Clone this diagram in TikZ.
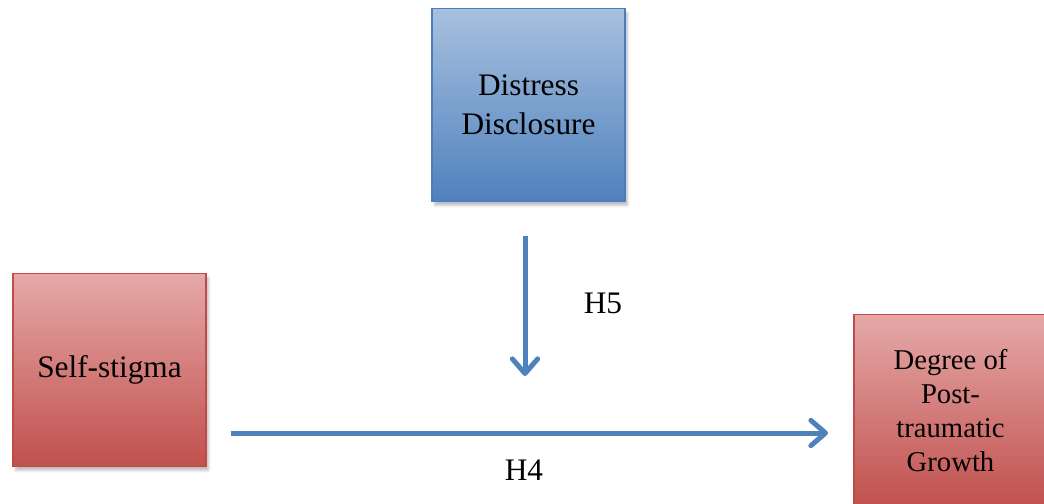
\documentclass[tikz,border=0pt]{standalone}
\usepackage{fontspec}
\setmainfont{Liberation Serif}
\usetikzlibrary{arrows.meta,shadows.blur}
\definecolor{bluetop}{HTML}{A8C0DF}
\definecolor{bluebot}{HTML}{4F81BD}
\definecolor{blueline}{HTML}{4A7EBB}
\definecolor{redtop}{HTML}{E5A9A8}
\definecolor{redbot}{HTML}{C0504D}
\definecolor{redline}{HTML}{BE4B48}
\begin{document}
\begin{tikzpicture}[x=0.75pt, y=-0.75pt,
  varbox/.style={rectangle, minimum size=144.75pt, inner sep=2pt, align=center,
    line width=1pt, blur shadow={shadow xshift=2pt, shadow yshift=-3pt, shadow opacity=25}},
  bluebox/.style={varbox, draw=blueline, top color=bluetop, bottom color=bluebot},
  redbox/.style={varbox, draw=redline, top color=redtop, bottom color=redbot},
  bigfont/.style={font=\fontsize{23.5}{29}\selectfont},
  smallfont/.style={font=\fontsize{21.5}{25.5}\selectfont},
  hyparrow/.style={draw=bluebot, line width=3.75pt,
    -{Straight Barb[length=11pt, width=19pt, round]}}]
\useasboundingbox (0,0) rectangle (1044,503);
\clip (0,0) rectangle (1044,503);

\node (disc) at (528.5, 105) [bluebox, bigfont] {Distress\\Disclosure};
\node (self) at (109.5, 370) [redbox, bigfont] {Self-stigma};
\node (ptg) at (950.5, 411) [redbox, smallfont] {Degree of\\Post-\\traumatic\\Growth};

\coordinate (h5s) at (525, 236);
\coordinate (h5e) at (525, 376);
\coordinate (h4s) at (231, 433);
\coordinate (h4e) at (828, 433);

\draw[hyparrow] (h5s) -- (h5e);
\draw[hyparrow] (h4s) -- (h4e);

\node (h5) at (603, 303) [bigfont] {H5};
\node (h4) at (524, 470) [bigfont] {H4};
\end{tikzpicture}
\end{document}
